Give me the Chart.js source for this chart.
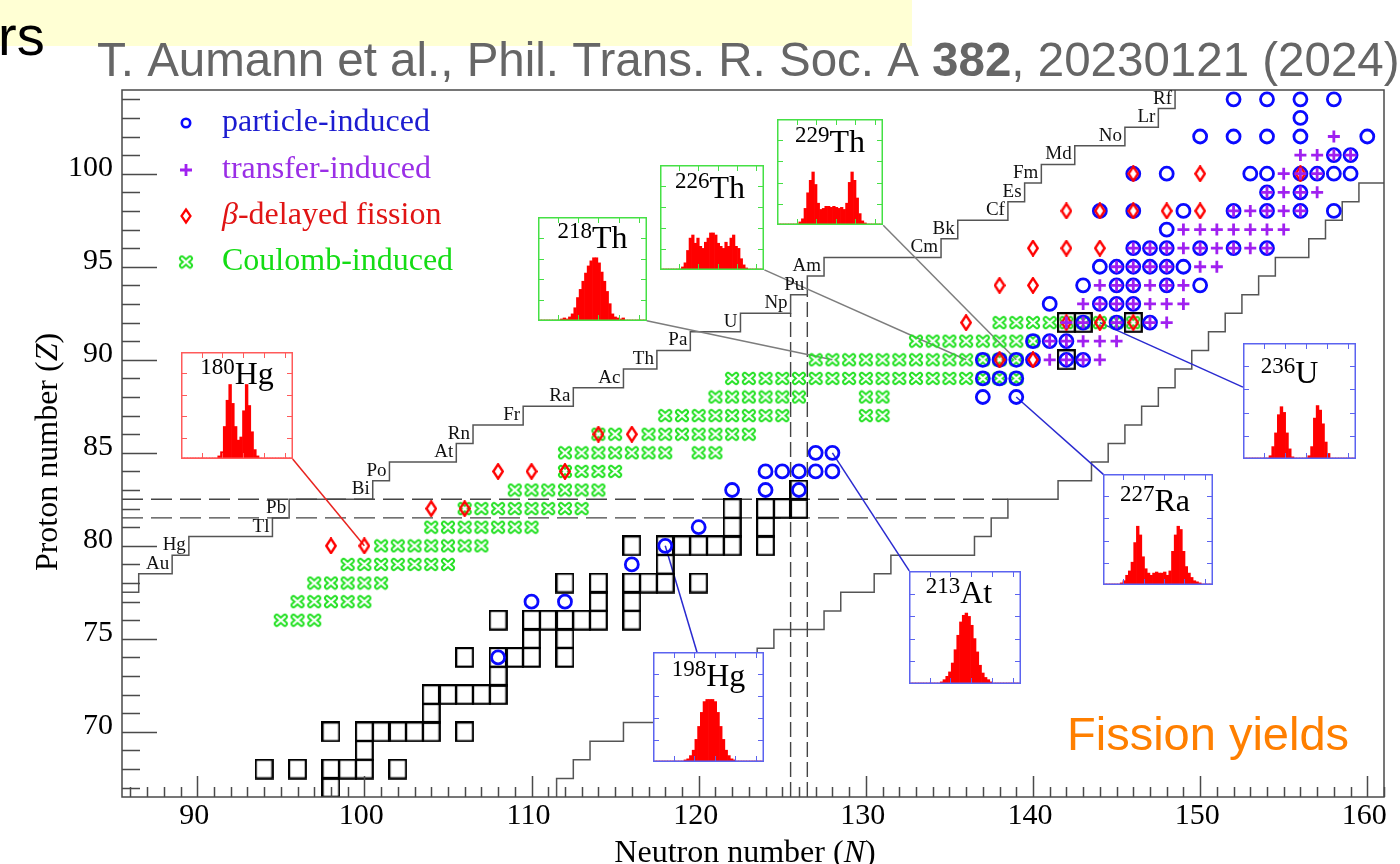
<!DOCTYPE html>
<html>
<head>
<meta charset="utf-8">
<script src="https://cdn.jsdelivr.net/npm/chart.js@4.4.1/dist/chart.umd.min.js"></script>
<style>
  html, body { margin: 0; padding: 0; background: #fff; overflow: hidden; }
  #wrap { position: relative; width: 1400px; height: 864px; }
  #main { position: absolute; left: 0; top: 0; }
  .inset { position: absolute; }
  .inset canvas { display: block; }
</style>
</head>
<body>
<div id="wrap"><canvas id="main" width="1400" height="864"></canvas></div>
<script>
// ---------------------------------------------------------------
// Section of the nuclide chart: neutron number N (x), proton number Z (y)
// Every nuclide is given as [N, Z].
// ---------------------------------------------------------------

// fission studied with light-particle beams
const particleInduced = [
  [108,74],[110,77],[112,77],[116,79],[118,80],[120,81],[122,83],[124,83],[124,84],
  [125,84],[126,83],[126,84],[127,84],[127,85],[128,84],[128,85],
  [137,88],[139,88],[137,89],[138,89],[139,89],
  [137,90],[138,90],[139,90],[140,90],[142,90],[143,90],
  [140,91],[141,91],[142,91],
  [143,92],[145,92],[147,92],
  [141,93],[144,93],[145,93],[146,93],
  [143,94],[145,94],[146,94],[148,94],[150,94],
  [144,95],[145,95],[146,95],[147,95],[148,95],[149,95],
  [146,96],[147,96],[148,96],[150,96],[152,96],[154,96],
  [148,97],
  [144,98],[146,98],[149,98],[152,98],[154,98],[156,98],[158,98],
  [154,99],[156,99],
  [146,100],[148,100],[153,100],[154,100],[156,100],[157,100],[158,100],[159,100],
  [158,101],[159,101],
  [150,102],[152,102],[154,102],[156,102],[160,102],
  [156,103],
  [152,104],[154,104],[156,104],[158,104]
];

// fission after multi-nucleon transfer
const transferInduced = [
  [141,90],[142,90],[143,90],[144,90],
  [141,91],[142,91],[143,91],[144,91],[145,91],
  [142,92],[143,92],[145,92],[147,92],[148,92],
  [143,93],[144,93],[145,93],[146,93],[147,93],[148,93],[149,93],
  [144,94],[145,94],[146,94],[147,94],[148,94],[149,94],
  [145,95],[146,95],[147,95],[148,95],[150,95],[151,95],
  [146,96],[147,96],[148,96],[149,96],[150,96],[151,96],[152,96],[153,96],[154,96],
  [149,97],[150,97],[151,97],[152,97],[153,97],[154,97],[155,97],
  [152,98],[153,98],[154,98],[155,98],[156,98],
  [154,99],[155,99],[156,99],[157,99],
  [155,100],[156,100],[157,100],
  [156,101],[157,101],[158,101],[159,101],
  [158,102]
];

// beta-delayed fission
const betaDelayed = [
  [98,80],[100,80],[104,82],[106,82],[108,84],[110,84],[112,84],[114,86],[116,86],
  [138,90],[140,90],[136,92],[142,92],[144,92],[146,92],
  [138,94],[140,94],[140,96],[142,96],[144,96],
  [142,98],[144,98],[146,98],[148,98],[150,98],
  [146,100],[150,100],[156,100]
];

// Coulomb-induced (electromagnetic) fission
const coulombInduced = [
  [95,76],[96,76],[97,76],
  [96,77],[97,77],[98,77],[99,77],[100,77],
  [97,78],[98,78],[99,78],[100,78],[101,78],
  [99,79],[100,79],[101,79],[102,79],[103,79],[104,79],[105,79],
  [101,80],[102,80],[103,80],[104,80],[105,80],[106,80],[107,80],
  [104,81],[105,81],[106,81],[107,81],[108,81],[109,81],[110,81],
  [106,82],[107,82],[108,82],[109,82],[110,82],[111,82],[112,82],[113,82],
  [109,83],[110,83],[111,83],[112,83],[113,83],[114,83],
  [112,84],[113,84],[114,84],[115,84],
  [112,85],[113,85],[114,85],[115,85],[116,85],[117,85],[118,85],[120,85],[121,85],
  [114,86],[115,86],[117,86],[118,86],[119,86],[120,86],[121,86],[122,86],[123,86],
  [118,87],[119,87],[120,87],[121,87],[122,87],[123,87],[124,87],[125,87],[130,87],[131,87],
  [121,88],[122,88],[123,88],[124,88],[125,88],[126,88],[130,88],[131,88],
  [122,89],[123,89],[124,89],[125,89],[126,89],[127,89],[128,89],[129,89],[130,89],
  [131,89],[132,89],[133,89],[134,89],[135,89],[136,89],[137,89],[138,89],[139,89],
  [127,90],[128,90],[129,90],[130,90],[131,90],[132,90],[133,90],[134,90],[135,90],
  [136,90],[137,90],[138,90],[139,90],
  [133,91],[134,91],[135,91],[136,91],[137,91],[138,91],[139,91],[140,91],
  [138,92],[139,92],[140,92],[141,92],[142,92],[143,92],[144,92],[145,92],[146,92]
];

// nuclides drawn as boxed cells
const boxedNuclides = [
  [98,67],[94,68],[96,68],[98,68],[99,68],[100,68],[102,68],[100,69],
  [98,70],[100,70],[101,70],[102,70],[103,70],[104,70],[106,70],[104,71],
  [104,72],[105,72],[106,72],[107,72],[108,72],[108,73],
  [106,74],[108,74],[109,74],[110,74],[112,74],[110,75],[112,75],
  [108,76],[110,76],[111,76],[112,76],[113,76],[114,76],[116,76],
  [114,77],[116,77],[112,78],[114,78],[116,78],[117,78],[118,78],[120,78],
  [118,79],[116,80],[118,80],[119,80],[120,80],[121,80],[122,80],[124,80],
  [122,81],[124,81],[122,82],[124,82],[125,82],[126,82],[126,83],
  [142,90],[142,92],[143,92],[146,92]
];

// limits of known nuclides
const elementZ = [79,80,81,82,83,84,85,86,87,88,89,90,91,92,93,94,95,96,97,98,99,100,101,102,103,104];
const elementSymbol = ['Au','Hg','Tl','Pb','Bi','Po','At','Rn','Fr','Ra','Ac','Th','Pa','U','Np','Pu','Am','Cm','Bk','Cf','Es','Fm','Md','No','Lr','Rf'];
const lightZ = [77,78,79,80,81,82,83,84,85,86,87,88,89,90,91,92,93,94,95,96,97,98,99,100,101,102,103,104];
const lightestN = [85,87,89,90,95,96,101,102,106,107,110,113,116,118,120,123,126,127,128,135,136,139,140,141,143,146,148,149];
const heavyZ = [67,68,69,70,71,72,73,74,75,76,77,78,79,80,81,82,83,84,85,86,87,88,89,90,91,92,93,94,95,96,97,98,99,100];
const heaviestN = [111,112,113,115,117,119,121,123,124,127,128,130,131,136,137,138,141,143,144,145,146,147,148,149,150,151,152,153,154,156,157,158,159,162];

// closed shells
const magicZ = [82];
const magicN = [126];

// axis ticks
const xTickStep = 10;
const yTickStep = 5;

// fission-fragment mass yields shown in the insets (relative heights, 40 mass bins)
const insetMass = [180, 218, 226, 229, 236, 227, 213, 198];
const insetElement = ['Hg', 'Th', 'Th', 'Th', 'U', 'Ra', 'At', 'Hg'];
const yieldHg180 = [0,0,0,0,0,0,0,0,0,0,0,0,0,0.02,0.06,0.30,0.55,0.70,0.52,0.30,0.17,0.20,0.45,0.70,0.50,0.25,0.08,0.02,0,0,0,0,0,0,0,0,0,0,0,0];
const yieldTh218 = [0,0,0,0,0,0,0,0,0.01,0.02,0.01,0.03,0.06,0.12,0.22,0.30,0.38,0.46,0.53,0.58,0.61,0.61,0.56,0.47,0.38,0.28,0.16,0.06,0.03,0.02,0.01,0.02,0,0,0,0,0,0,0,0];
const yieldTh226 = [0,0,0,0,0,0,0,0,0.02,0.06,0.18,0.30,0.33,0.25,0.30,0.22,0.20,0.26,0.30,0.35,0.35,0.33,0.25,0.22,0.20,0.26,0.22,0.30,0.33,0.22,0.20,0.10,0.04,0.01,0,0,0,0,0,0];
const yieldTh229 = [0,0,0,0,0,0,0,0,0.02,0.05,0.15,0.30,0.42,0.50,0.38,0.20,0.14,0.15,0.17,0.17,0.16,0.17,0.16,0.15,0.16,0.14,0.20,0.40,0.50,0.42,0.25,0.10,0.03,0.01,0,0,0,0,0,0];
const yieldU236 = [0,0,0,0,0,0,0,0,0,0.02,0.10,0.22,0.38,0.45,0.40,0.22,0.08,0.01,0,0,0,0,0,0.02,0.10,0.35,0.46,0.42,0.30,0.14,0.04,0,0,0,0,0,0,0,0,0];
const yieldRa227 = [0,0,0,0,0,0,0.01,0.03,0.08,0.12,0.20,0.38,0.53,0.45,0.25,0.14,0.10,0.08,0.10,0.11,0.10,0.10,0.11,0.08,0.12,0.30,0.45,0.53,0.50,0.30,0.16,0.10,0.06,0.03,0.02,0.01,0,0,0,0];
const yieldAt213 = [0,0,0,0,0,0,0,0,0,0,0,0.01,0.03,0.06,0.10,0.18,0.30,0.43,0.55,0.61,0.63,0.60,0.52,0.40,0.28,0.16,0.09,0.05,0.03,0.01,0,0,0,0,0,0,0,0,0,0];
const yieldHg198 = [0,0,0,0,0,0,0,0,0,0,0,0.01,0.02,0.05,0.10,0.20,0.32,0.45,0.55,0.57,0.57,0.57,0.55,0.45,0.32,0.20,0.10,0.05,0.02,0.01,0,0,0,0,0,0,0,0,0,0];
const insetYields = [yieldHg180, yieldTh218, yieldTh226, yieldTh229, yieldU236, yieldRa227, yieldAt213, yieldHg198];

// ---------------------------------------------------------------
// layout of the inset panels, in axis units: [N left, N right, Z bottom, Z top],
// the point where the callout line leaves the panel, the label baseline
// (px from the panel top) and a horizontal label shift (px)
// ---------------------------------------------------------------
const RED = { frame: '#ff5a5a', line: '#e8231f' };
const GREEN = { frame: '#45e045', line: '#7d7d7d' };
const BLUE = { frame: '#5b63f0', line: '#2a2ad0' };
const insetLayout = [
  { box: [89.03, 95.71, 84.67, 90.43], anchor: [95.71, 84.67], c: RED, base: 32, dx: 0 },
  { box: [110.40, 116.89, 92.10, 97.66], anchor: [116.89, 92.10], c: GREEN, base: 31, dx: 0 },
  { box: [117.69, 123.93, 94.83, 100.47], anchor: [123.93, 94.83], c: GREEN, base: 33, dx: -2 },
  { box: [124.70, 131.04, 97.23, 102.93], anchor: [131.04, 97.23], c: GREEN, base: 33, dx: 0 },
  { box: [152.56, 159.35, 84.67, 90.90], anchor: [152.56, 88.53], c: BLUE, base: 40, dx: -10 },
  { box: [144.21, 150.79, 77.89, 83.84], anchor: [144.21, 83.84], c: BLUE, base: 37, dx: -3 },
  { box: [132.60, 139.28, 72.56, 78.65], anchor: [132.60, 78.65], c: BLUE, base: 32, dx: -6 },
  { box: [117.28, 123.91, 68.36, 74.28], anchor: [119.90, 74.28], c: BLUE, base: 34, dx: 0 }
];

const SERIF = '"Liberation Serif", "Times New Roman", serif';
const SANS = '"Liberation Sans", Arial, sans-serif';

// ---------------------------------------------------------------
// marker images
// ---------------------------------------------------------------
function markerCanvas(w, h, paint) {
  const c = document.createElement('canvas');
  c.width = w; c.height = h;
  paint(c.getContext('2d'), w, h);
  return c;
}
const diamondMark = markerCanvas(12, 17, (g, w, h) => {
  g.strokeStyle = '#ff0000'; g.lineWidth = 2.4; g.lineJoin = 'miter';
  g.beginPath();
  g.moveTo(w / 2, 1.3); g.lineTo(w - 1.3, h / 2); g.lineTo(w / 2, h - 1.3); g.lineTo(1.3, h / 2);
  g.closePath(); g.stroke();
});
const coulombMark = markerCanvas(16, 15, (g) => {
  g.lineCap = 'round';
  g.strokeStyle = '#22e022'; g.lineWidth = 6;
  g.beginPath(); g.moveTo(4, 4); g.lineTo(12, 11); g.moveTo(12, 4); g.lineTo(4, 11); g.stroke();
  g.globalCompositeOperation = 'destination-out';
  g.lineWidth = 2.2;
  g.beginPath(); g.moveTo(4, 4); g.lineTo(12, 11); g.moveTo(12, 4); g.lineTo(4, 11); g.stroke();
});
const boxMark = markerCanvas(19, 21, (g) => {
  g.strokeStyle = '#000'; g.lineWidth = 2.2;
  g.strokeRect(1.1, 1.1, 16.7, 18.6);
});

// ---------------------------------------------------------------
// helpers turning the tables into chart data
// ---------------------------------------------------------------
const toXY = (list) => list.map(([n, z]) => ({ x: n, y: z }));

function lightEdge() {
  const pts = [];
  lightZ.forEach((z, i) => {
    pts.push({ x: lightestN[i] - 0.5, y: z - 0.5 });
    pts.push({ x: lightestN[i] - 0.5, y: z + 0.5 });
  });
  return pts;
}
function heavyEdge() {
  const pts = [];
  heavyZ.forEach((z, i) => {
    pts.push({ x: heaviestN[i] + 0.5, y: z - 0.5 });
    pts.push({ x: heaviestN[i] + 0.5, y: z + 0.5 });
  });
  return pts;
}
const zOfElement = (sym) => elementZ[elementSymbol.indexOf(sym)];

function shellLines() {
  const sets = [];
  const X0 = 85.5, Y0 = 66.5;
  magicZ.forEach((z) => {
    [z - 0.5, z + 0.5].forEach((edge) => {
      // horizontal line ends where it meets the neutron-rich limit
      const row = edge < z ? z - 1 : z;
      const nEnd = heaviestN[heavyZ.indexOf(row)] + 0.5;
      sets.push([{ x: X0, y: edge }, { x: nEnd, y: edge }]);
    });
  });
  magicN.forEach((n) => {
    [n - 0.5, n + 0.5].forEach((edge) => {
      // vertical line ends where it meets the proton-rich limit
      const idx = lightestN.findIndex((v) => v - 0.5 >= edge);
      const zEnd = lightZ[idx] - 0.5;
      sets.push([{ x: edge, y: Y0 }, { x: edge, y: zEnd }]);
    });
  });
  return sets;
}

// ---------------------------------------------------------------
// datasets
// ---------------------------------------------------------------
const datasets = [];
datasets.push({
  type: 'line', data: lightEdge(), borderColor: '#555', borderWidth: 1.5,
  pointRadius: 0, fill: false, tension: 0, order: 30
});
datasets.push({
  type: 'line', data: heavyEdge(), borderColor: '#555', borderWidth: 1.5,
  pointRadius: 0, fill: false, tension: 0, order: 30
});
shellLines().forEach((seg) => {
  const horizontal = seg[0].y === seg[1].y;
  datasets.push({
    type: 'line', data: seg, borderColor: '#444', borderWidth: 1.4,
    borderDash: horizontal ? [21, 8] : [15, 5],
    pointRadius: 0, fill: false, tension: 0, order: 29
  });
});
insetLayout.forEach((L, i) => {
  const z = zOfElement(insetElement[i]);
  const n = insetMass[i] - z;
  datasets.push({
    type: 'line', data: [{ x: n, y: z }, { x: L.anchor[0], y: L.anchor[1] }],
    borderColor: L.c.line, borderWidth: 1.5, pointRadius: 0, fill: false, order: 28
  });
});
datasets.push({
  type: 'scatter', data: toXY(boxedNuclides), pointStyle: boxMark, pointRadius: 9, order: 20
});
datasets.push({
  type: 'scatter', label: 'Coulomb-induced', data: toXY(coulombInduced), pointStyle: coulombMark, pointRadius: 8, order: 19
});
datasets.push({
  type: 'scatter', label: 'particle-induced', data: toXY(particleInduced), pointStyle: 'circle',
  pointRadius: 6.5, borderWidth: 2.8, borderColor: '#0a0aff', backgroundColor: 'rgba(0,0,0,0)', order: 18
});
datasets.push({
  type: 'scatter', label: 'β-delayed fission', data: toXY(betaDelayed), pointStyle: diamondMark, pointRadius: 8, order: 17
});
datasets.push({
  type: 'scatter', label: 'transfer-induced', data: toXY(transferInduced), pointStyle: 'cross',
  pointRadius: 6, borderWidth: 2.8, borderColor: '#a020f0', order: 16
});

// ---------------------------------------------------------------
// drawing of frame, inward ticks, labels, legend and header
// ---------------------------------------------------------------
function drawRich(ctx, parts, x, y) {
  let cx = x;
  parts.forEach(([text, font]) => {
    ctx.font = font;
    ctx.fillText(text, cx, y);
    cx += ctx.measureText(text).width;
  });
  return cx - x;
}
function richWidth(ctx, parts) {
  let w = 0;
  parts.forEach(([text, font]) => { ctx.font = font; w += ctx.measureText(text).width; });
  return w;
}

const decor = {
  id: 'decor',
  beforeDraw(chart) {
    const { ctx, width, height } = chart;
    ctx.save();
    ctx.fillStyle = '#fff';
    ctx.fillRect(0, 0, width, height);
    // slide header
    ctx.fillStyle = '#ffffd4';
    ctx.fillRect(0, 0, 912, 46);
    ctx.fillStyle = '#000';
    ctx.font = '56px ' + SANS;
    ctx.textBaseline = 'alphabetic';
    ctx.fillText('rs', -2, 55);
    ctx.fillStyle = '#666';
    drawRich(ctx, [
      ['T. Aumann et al., Phil. Trans. R. Soc. A ', '47.5px ' + SANS],
      ['382', 'bold 47.5px ' + SANS],
      [', 20230121 (2024)', '47.5px ' + SANS]
    ], 97, 76);
    ctx.restore();
  },
  afterDatasetsDraw(chart) {
    const { ctx, chartArea: a } = chart;
    const x = chart.scales.x, y = chart.scales.y;
    ctx.save();

    // plot frame
    ctx.strokeStyle = '#4a4a4a';
    ctx.lineWidth = 1.5;
    ctx.strokeRect(a.left, a.top, a.right - a.left, a.bottom - a.top);

    // inward ticks
    ctx.beginPath();
    for (let n = Math.ceil(x.min); n <= x.max; n++) {
      const p = Math.round(x.getPixelForValue(n)) + 0.5;
      const len = n % xTickStep === 0 ? 21 : 10;
      ctx.moveTo(p, a.bottom); ctx.lineTo(p, a.bottom - len);
    }
    for (let z = Math.ceil(y.min); z <= y.max; z++) {
      const p = Math.round(y.getPixelForValue(z)) + 0.5;
      const len = z % yTickStep === 0 ? 35 : 18;
      ctx.moveTo(a.left, p); ctx.lineTo(a.left + len, p);
    }
    ctx.stroke();

    // element symbols along the proton-rich limit
    ctx.fillStyle = '#111';
    ctx.font = '19px ' + SERIF;
    ctx.textAlign = 'right';
    ctx.textBaseline = 'alphabetic';
    elementZ.forEach((z, i) => {
      const n = lightestN[lightZ.indexOf(z)];
      ctx.fillText(elementSymbol[i], x.getPixelForValue(n - 0.5) - 3, y.getPixelForValue(z - 0.5) - 5);
    });

    // legend
    const rows = [123, 170, 216, 262];
    const mx = 186, tx = 222;
    const lf = '32px ' + SERIF;
    ctx.textAlign = 'left';
    ctx.textBaseline = 'middle';
    // particle-induced
    ctx.strokeStyle = '#0a0aff'; ctx.lineWidth = 2.6;
    ctx.beginPath(); ctx.arc(mx, rows[0], 4.2, 0, Math.PI * 2); ctx.stroke();
    ctx.fillStyle = '#1c1cd0'; ctx.font = lf;
    ctx.fillText('particle-induced', tx, rows[0]);
    // transfer-induced
    ctx.strokeStyle = '#a020f0'; ctx.lineWidth = 2.8;
    ctx.beginPath();
    ctx.moveTo(mx - 6, rows[1]); ctx.lineTo(mx + 6, rows[1]);
    ctx.moveTo(mx, rows[1] - 6); ctx.lineTo(mx, rows[1] + 6);
    ctx.stroke();
    ctx.fillStyle = '#9a2ee6';
    ctx.fillText('transfer-induced', tx, rows[1]);
    // beta-delayed fission
    ctx.strokeStyle = '#ff0000'; ctx.lineWidth = 2.2;
    ctx.beginPath();
    ctx.moveTo(mx, rows[2] - 6.5); ctx.lineTo(mx + 4.5, rows[2]); ctx.lineTo(mx, rows[2] + 6.5); ctx.lineTo(mx - 4.5, rows[2]);
    ctx.closePath(); ctx.stroke();
    ctx.fillStyle = '#e01414';
    drawRich(ctx, [['β', 'italic ' + lf], ['-delayed fission', lf]], tx, rows[2]);
    // Coulomb-induced
    ctx.drawImage(coulombMark, mx - 8, rows[3] - 7.5);
    ctx.fillStyle = '#14dc14';
    ctx.font = lf;
    ctx.fillText('Coulomb-induced', tx, rows[3]);

    // panel caption
    ctx.fillStyle = '#ff7f00';
    ctx.font = '47px ' + SANS;
    ctx.textBaseline = 'alphabetic';
    ctx.fillText('Fission yields', 1067, 750);

    // axis titles
    ctx.fillStyle = '#000';
    const tf = '32px ' + SERIF;
    const xt = [['Neutron number (', tf], ['N', 'italic ' + tf], [')', tf]];
    const xw = richWidth(ctx, xt);
    ctx.textBaseline = 'alphabetic';
    drawRich(ctx, xt, 745 - xw / 2, 862);
    const yt = [['Proton number (', tf], ['Z', 'italic ' + tf], [')', tf]];
    const yw = richWidth(ctx, yt);
    ctx.translate(57, 452);
    ctx.rotate(-Math.PI / 2);
    drawRich(ctx, yt, -yw / 2, 0);
    ctx.restore();
  }
};

const mainChart = new Chart(document.getElementById('main'), {
  type: 'scatter',
  data: { datasets },
  options: {
    responsive: false,
    animation: false,
    events: [],
    layout: { padding: { left: 0, right: 16, top: 90, bottom: 0 } },
    scales: {
      x: {
        type: 'linear', min: 85.5, max: 161,
        afterFit(s) { s.height = 67; },
        grid: { display: false, drawTicks: false },
        border: { display: false },
        ticks: {
          stepSize: xTickStep, includeBounds: false, autoSkip: false, maxRotation: 0,
          color: '#000', padding: 1, labelOffset: -3,
          font: { family: SERIF, size: 30 }
        }
      },
      y: {
        type: 'linear', min: 66.5, max: 104.5,
        afterFit(s) { s.width = 122; },
        grid: { display: false, drawTicks: false },
        border: { display: false },
        ticks: {
          stepSize: yTickStep, includeBounds: false, autoSkip: false,
          color: '#000', padding: 9, labelOffset: -6,
          font: { family: SERIF, size: 30 }
        }
      }
    },
    plugins: { legend: { display: false }, tooltip: { enabled: false } }
  },
  plugins: [decor]
});

// ---------------------------------------------------------------
// inset histograms, each its own small chart placed over the main one
// ---------------------------------------------------------------
const insetTicksH = [0.185, 0.37, 0.555, 0.74, 0.925];
const insetTicksV = [0.2, 0.4, 0.6, 0.8];

function insetFrame(i) {
  return {
    id: 'frame' + i,
    beforeDraw(chart) {
      const { ctx, width, height } = chart;
      ctx.save(); ctx.fillStyle = '#fff'; ctx.fillRect(0, 0, width, height); ctx.restore();
    },
    afterDraw(chart) {
      const { ctx, width: w, height: h } = chart;
      const L = insetLayout[i];
      ctx.save();
      ctx.strokeStyle = L.c.frame; ctx.lineWidth = 1.5;
      ctx.strokeRect(0.75, 0.75, w - 1.5, h - 1.5);
      ctx.lineWidth = 1;
      ctx.beginPath();
      insetTicksH.forEach((f) => {
        const px = Math.round(f * w) + 0.5;
        ctx.moveTo(px, 1); ctx.lineTo(px, 6);
        ctx.moveTo(px, h - 1); ctx.lineTo(px, h - 6);
      });
      insetTicksV.forEach((f) => {
        const py = Math.round(f * h) + 0.5;
        ctx.moveTo(1, py); ctx.lineTo(6, py);
        ctx.moveTo(w - 1, py); ctx.lineTo(w - 6, py);
      });
      ctx.stroke();
      // nuclide label with mass number as superscript
      ctx.fillStyle = '#000';
      ctx.textBaseline = 'alphabetic';
      const sup = String(insetMass[i]);
      const supFont = '23px ' + SERIF, symFont = '32px ' + SERIF;
      ctx.font = supFont;
      const ws = ctx.measureText(sup).width;
      ctx.font = symFont;
      const we = ctx.measureText(insetElement[i]).width;
      const x0 = (w - ws - we) / 2 + L.dx;
      ctx.font = supFont;
      ctx.fillText(sup, x0, L.base - 10);
      ctx.font = symFont;
      ctx.fillText(insetElement[i], x0 + ws, L.base);
      ctx.restore();
    }
  };
}

const wrap = document.getElementById('wrap');
insetLayout.forEach((L, i) => {
  const X = mainChart.scales.x, Y = mainChart.scales.y;
  const left = Math.round(X.getPixelForValue(L.box[0]));
  const right = Math.round(X.getPixelForValue(L.box[1]));
  const top = Math.round(Y.getPixelForValue(L.box[3]));
  const bottom = Math.round(Y.getPixelForValue(L.box[2]));
  const div = document.createElement('div');
  div.className = 'inset';
  div.style.left = left + 'px';
  div.style.top = top + 'px';
  const cv = document.createElement('canvas');
  cv.width = right - left;
  cv.height = bottom - top;
  div.appendChild(cv);
  wrap.appendChild(div);
  const ys = insetYields[i];
  new Chart(cv, {
    type: 'bar',
    data: {
      labels: ys.map((_, k) => k),
      datasets: [{ data: ys, backgroundColor: '#ff0000', borderWidth: 0, barPercentage: 1, categoryPercentage: 1 }]
    },
    options: {
      responsive: false, animation: false, events: [],
      layout: { padding: { left: 1, right: 1, top: 1, bottom: 1 } },
      scales: { x: { display: false }, y: { display: false, min: 0, max: 1 } },
      plugins: { legend: { display: false }, tooltip: { enabled: false } }
    },
    plugins: [insetFrame(i)]
  });
});
</script>
</body>
</html>
